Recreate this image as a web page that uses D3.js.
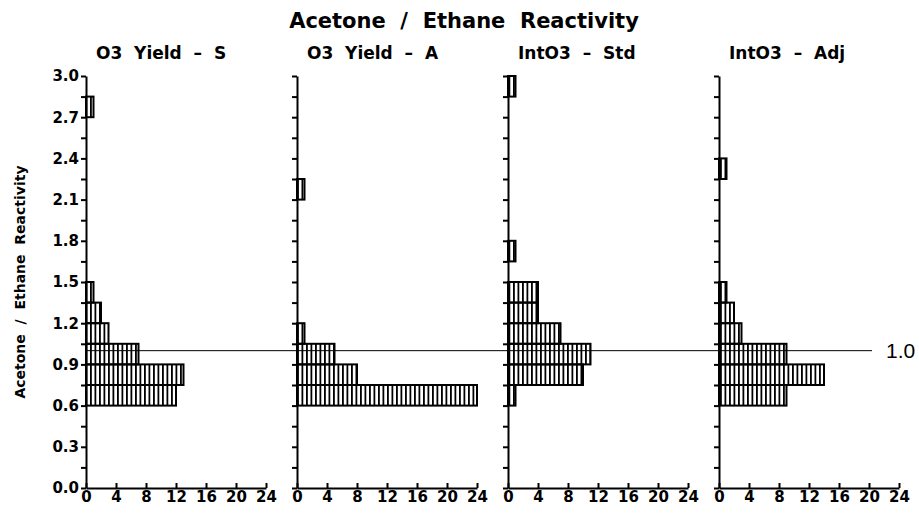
<!DOCTYPE html>
<html>
<head>
<meta charset="utf-8">
<script src="https://cdn.jsdelivr.net/npm/d3@7"></script>
<style>
    body { margin: 0; background: #fff; }
    text { font-family: "DejaVu Sans", sans-serif; font-weight: bold; fill: #000; }
    .axis path, .axis line { stroke: #000; stroke-width: 2; }
    .axis text { font-size: 15px; }
</style>
</head>
<body>
<div id="chart"></div>
<script>
// lower edge of each 0.15 wide bin
var binStarts = [0.60, 0.75, 0.90, 1.05, 1.20, 1.35, 1.50, 1.65, 1.80, 1.95, 2.10, 2.25, 2.40, 2.55, 2.70, 2.85];
var binWidth = 0.15;

var panelTitles = ["O3  Yield  \u2013  S", "O3  Yield  \u2013  A", "IntO3  \u2013  Std", "IntO3  \u2013  Adj"];

var countsS   = [12, 13, 7, 3, 2, 1, 0, 0, 0, 0, 0, 0, 0, 0, 1, 0];
var countsA   = [24, 8, 5, 1, 0, 0, 0, 0, 0, 0, 1, 0, 0, 0, 0, 0];
var countsStd = [1, 10, 11, 7, 4, 4, 0, 1, 0, 0, 0, 0, 0, 0, 0, 1];
var countsAdj = [9, 14, 9, 3, 2, 1, 0, 0, 0, 0, 0, 1, 0, 0, 0, 0];

var yTicks = [0, 0.3, 0.6, 0.9, 1.2, 1.5, 1.8, 2.1, 2.4, 2.7, 3.0];
var xTicks = [0, 4, 8, 12, 16, 20, 24];
var refValue = 1.0;

var svgWidth = 919;
var svgHeight = 516;

var svg = d3.select("#chart")
    .append("svg")
    .attr("width", svgWidth)
    .attr("height", svgHeight);

// vertical hatching used by every bar
svg.append("defs")
    .append("pattern")
    .attr("id", "hatch")
    .attr("patternUnits", "userSpaceOnUse")
    .attr("width", 4.5)
    .attr("height", 4)
    .append("rect")
    .attr("x", 0)
    .attr("y", 0)
    .attr("width", 1.8)
    .attr("height", 4)
    .attr("fill", "#000");

/********************************************************/

var yScale = d3.scaleLinear()
    .domain([0, 3])
    .range([488, 76]);

var panelScale = d3.scaleLinear()
    .domain([0, 1])
    .range([86, 297]);

var panels = [countsS, countsA, countsStd, countsAdj];

panels.forEach(function (counts, i) {
    var x0 = panelScale(i);
    var xScale = d3.scaleLinear()
        .domain([0, 24])
        .range([x0, x0 + 180]);

    var g = svg.append("g");

    var bins = binStarts.map(function (b, j) {
        return { lo: b, hi: b + binWidth, n: counts[j] };
    }).filter(d => d.n > 0);

    g.selectAll("rect.bar")
        .data(bins)
        .enter()
        .append("rect")
        .attr("class", "bar")
        .attr("x", xScale(0))
        .attr("y", d => yScale(d.hi))
        .attr("width", d => xScale(d.n) - xScale(0))
        .attr("height", d => yScale(d.lo) - yScale(d.hi))
        .attr("fill", "url(#hatch)")
        .attr("stroke", "#000")
        .attr("stroke-width", 2);

    var leftAxis = d3.axisLeft(yScale)
        .tickValues(d3.range(0, 3.001, 0.15))
        .tickSizeInner(5)
        .tickSizeOuter(0)
        .tickPadding(2)
        .tickFormat(d => (i === 0 && yTicks.some(t => Math.abs(t - d) < 1e-6)) ? d3.format(".1f")(d) : "");

    g.append("g")
        .attr("class", "axis")
        .attr("transform", `translate(${xScale(0)}, 0)`)
        .call(leftAxis);

    var bottomAxis = d3.axisBottom(xScale)
        .tickValues(xTicks)
        .tickSizeInner(-5)
        .tickSizeOuter(0)
        .tickPadding(3);

    g.append("g")
        .attr("class", "axis")
        .attr("transform", `translate(0, ${yScale(0)})`)
        .call(bottomAxis);

    g.append("text")
        .attr("x", x0 + 10)
        .attr("y", 59)
        .attr("font-size", 17)
        .style("white-space", "pre")
        .text(panelTitles[i]);
});

/********************************************************/

svg.append("line")
    .attr("x1", panelScale(0))
    .attr("x2", 872)
    .attr("y1", yScale(refValue))
    .attr("y2", yScale(refValue))
    .attr("stroke", "#000")
    .attr("stroke-width", 1);

svg.append("text")
    .attr("x", 886)
    .attr("y", yScale(refValue) + 7)
    .attr("font-size", 21)
    .style("font-family", "'Liberation Sans', Arial, sans-serif")
    .style("font-weight", "normal")
    .text(d3.format(".1f")(refValue));

svg.append("text")
    .attr("x", 464)
    .attr("y", 28)
    .attr("text-anchor", "middle")
    .attr("font-size", 21)
    .style("white-space", "pre")
    .text("Acetone  /  Ethane  Reactivity");

svg.append("text")
    .attr("transform", `translate(25, ${(yScale(0) + yScale(3)) / 2}) rotate(-90)`)
    .attr("text-anchor", "middle")
    .attr("font-size", 14)
    .style("white-space", "pre")
    .text("Acetone  /  Ethane  Reactivity");
</script>
</body>
</html>
